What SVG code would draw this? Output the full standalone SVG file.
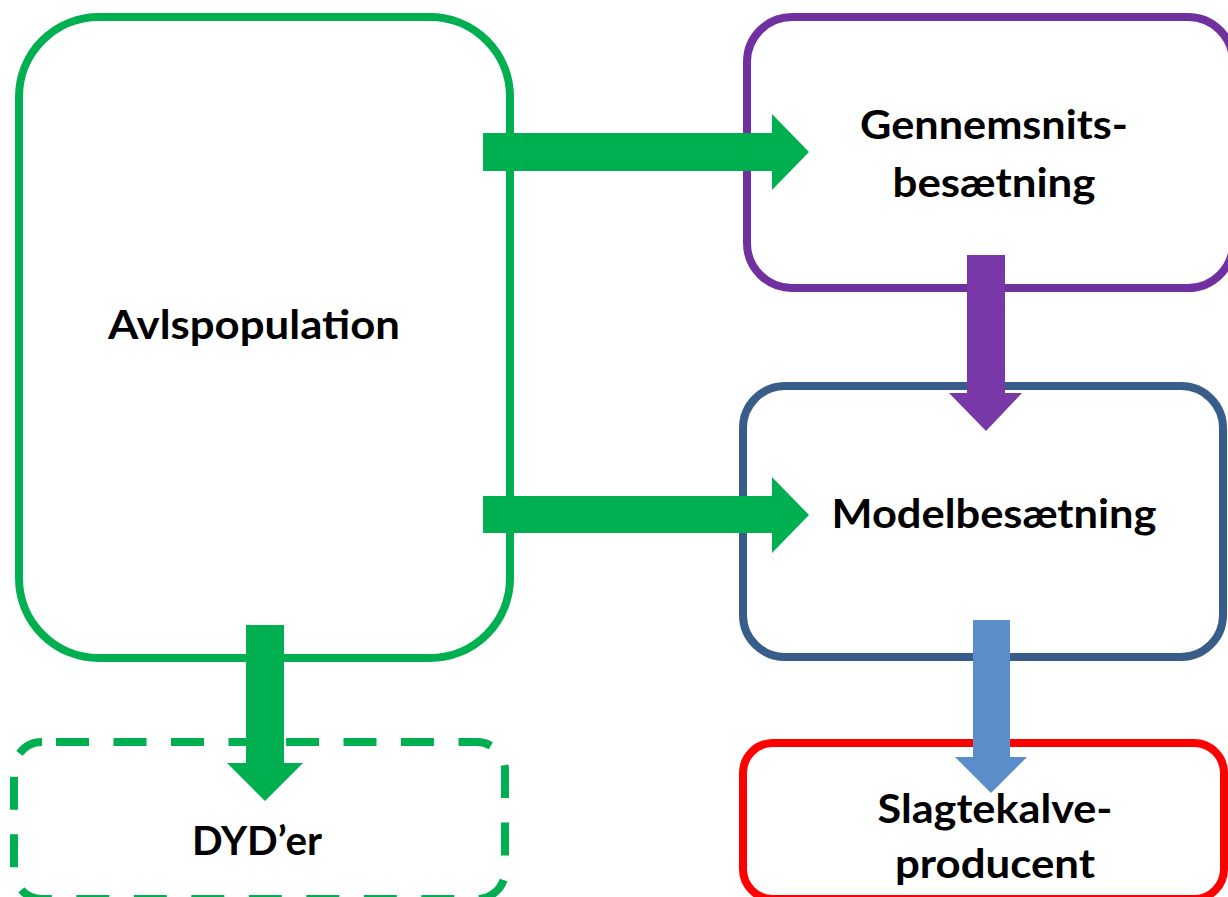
<svg xmlns="http://www.w3.org/2000/svg" width="1228" height="897" viewBox="0 0 1228 897">
<style>
.box{fill:#FFFFFF;stroke-width:8}
.lbl{font-family:Lato,"Liberation Sans",sans-serif;font-weight:bold;font-size:40px;fill:#000000;text-anchor:middle}
</style>
<rect x="0" y="0" width="1228" height="897" fill="#FFFFFF"/>
<g id="node-avlspopulation">
<rect class="box" x="19" y="17" width="491" height="641" rx="80" ry="80" stroke="#00B050"/>
<text class="lbl" x="254" y="339" textLength="292" lengthAdjust="spacingAndGlyphs">Avlspopulation</text>
</g>
<g id="node-gennemsnit">
<rect class="box" x="747" y="17" width="486" height="271" rx="45" ry="45" stroke="#7030A0"/>
<text class="lbl" x="994" y="139" textLength="268" lengthAdjust="spacingAndGlyphs">Gennemsnits-</text>
<text class="lbl" x="994" y="197" textLength="203" lengthAdjust="spacingAndGlyphs">besætning</text>
</g>
<g id="node-model">
<rect class="box" x="743" y="386" width="480" height="271" rx="42" ry="42" stroke="#385D8A"/>
<text class="lbl" x="994" y="528" textLength="325" lengthAdjust="spacingAndGlyphs">Modelbesætning</text>
</g>
<g id="node-dyd">
<rect class="box" x="14" y="742" width="491" height="157" rx="28" ry="28" stroke="#00B050" stroke-dasharray="33 24.5" stroke-dashoffset="-14"/>
<text class="lbl" x="257" y="855" textLength="130" lengthAdjust="spacingAndGlyphs">DYD’er</text>
</g>
<g id="node-slagtekalve">
<rect class="box" x="743" y="743" width="481" height="156" rx="30" ry="30" stroke="#FF0000"/>
<text class="lbl" x="995" y="823" textLength="235" lengthAdjust="spacingAndGlyphs">Slagtekalve-</text>
<text class="lbl" x="995" y="878" textLength="200" lengthAdjust="spacingAndGlyphs">producent</text>
</g>
<g id="connectors">
<polygon fill="#00B050" points="483,133 772,133 772,114 809,152 772,190 772,171 483,171"/>
<polygon fill="#00B050" points="483,496 772,496 772,477 809,515 772,553 772,533 483,533"/>
<polygon fill="#7838A8" points="967,255 1005,255 1005,393 1022,393 986,431 949,393 967,393"/>
<polygon fill="#00B050" points="246,625 284,625 284,763 303,763 265,801 227,763 246,763"/>
<polygon fill="#5B8DCB" points="973,620 1010,620 1010,757 1027,757 991,793 955,757 973,757"/>
</g>
</svg>
